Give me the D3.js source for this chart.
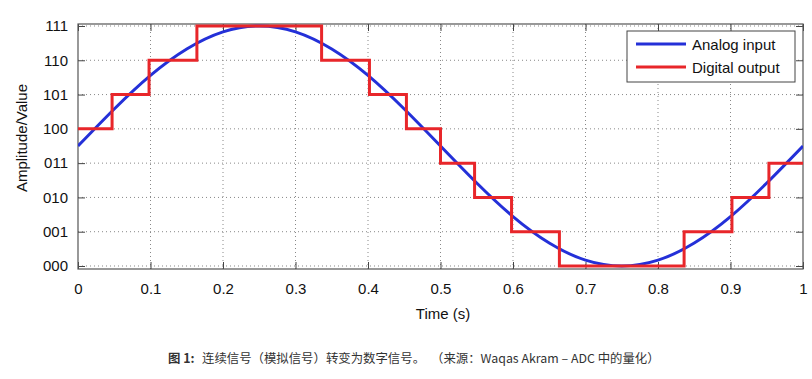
<!DOCTYPE html>
<html><head><meta charset="utf-8">
<script src="https://cdn.jsdelivr.net/npm/d3@7"></script>
<style>body{margin:0;background:#fff}svg{display:block}</style>
</head><body>
<svg id="c" width="812" height="379"></svg>
<script>
// Analog input samples (time, amplitude)
const analogT = [0,0.05,0.1,0.15,0.2,0.25,0.3,0.35,0.4,0.45,0.5,0.55,0.6,0.65,0.7,0.75,0.8,0.85,0.9,0.95,1.0];
const analogV = [3.5,4.58,5.56,6.33,6.83,7.0,6.83,6.33,5.56,4.58,3.5,2.42,1.44,0.67,0.17,0,0.17,0.67,1.44,2.42,3.5];
// Digital output steps (start time, level)
const stepT = [0,0.047,0.098,0.164,0.336,0.402,0.453,0.5,0.547,0.598,0.664,0.836,0.902,0.953,1.0];
const stepV = [4,5,6,7,6,5,4,3,2,1,0,1,2,3,3];
const xTicks = [0,0.1,0.2,0.3,0.4,0.5,0.6,0.7,0.8,0.9,1];
const xTickLabels = ["0","0.1","0.2","0.3","0.4","0.5","0.6","0.7","0.8","0.9","1"];
const yTicks = [0,1,2,3,4,5,6,7];
const yTickLabels = ["000","001","010","011","100","101","110","111"];
const seriesNames = ["Analog input","Digital output"];
const seriesColors = ["#2430d8","#e8262a"];

const svg = d3.select("#c");
const L=78, R=803, T=24, B=269;
const x = d3.scaleLinear().domain([0,1]).range([L,R]);
const y = d3.scaleLinear().domain([-0.0875,7.058]).range([B,T]);
const font = "'Liberation Sans', Arial, Helvetica, sans-serif";

// grid
const g = svg.append("g");
g.selectAll(".gx").data(xTicks.slice(1,-1)).join("line")
  .attr("x1",d=>x(d)).attr("x2",d=>x(d)).attr("y1",T).attr("y2",B)
  .attr("stroke","#888").attr("stroke-width",1).attr("stroke-dasharray","1,3");
g.selectAll(".gy").data(yTicks).join("line")
  .attr("x1",L).attr("x2",R).attr("y1",d=>y(d)).attr("y2",d=>y(d))
  .attr("stroke","#888").attr("stroke-width",1).attr("stroke-dasharray","1,3");

// axes with inward ticks
const fmtX = d=>xTickLabels[xTicks.indexOf(d)];
const fmtY = d=>yTickLabels[d];
const ax = svg.append("g").attr("transform",`translate(0,${B})`)
  .call(d3.axisBottom(x).tickValues(xTicks).tickFormat(fmtX).tickSizeInner(-7).tickSizeOuter(0).tickPadding(14));
const axT = svg.append("g").attr("transform",`translate(0,${T})`)
  .call(d3.axisTop(x).tickValues(xTicks).tickFormat("").tickSizeInner(-7).tickSizeOuter(0));
const ay = svg.append("g").attr("transform",`translate(${L},0)`)
  .call(d3.axisLeft(y).tickValues(yTicks).tickFormat(fmtY).tickSizeInner(-7).tickSizeOuter(0).tickPadding(10));
const ayR = svg.append("g").attr("transform",`translate(${R},0)`)
  .call(d3.axisRight(y).tickValues(yTicks).tickFormat("").tickSizeInner(-7).tickSizeOuter(0));
[ax,axT,ay,ayR].forEach(a=>{
  a.select(".domain").remove();
  a.selectAll(".tick line").attr("stroke","#444").attr("stroke-width",1);
  a.selectAll("text").attr("font-family",font).attr("font-size",15).attr("fill","#111");
});
svg.append("rect").attr("x",L).attr("y",T).attr("width",R-L).attr("height",B-T)
  .attr("fill","none").attr("stroke","#555").attr("stroke-width",1.2);

// data
svg.append("clipPath").attr("id","cp").append("rect")
  .attr("x",L).attr("y",T-2).attr("width",R-L).attr("height",B-T+4);
const analog = analogT.map((t,i)=>[t,analogV[i]]);
const digital = stepT.map((t,i)=>[t,stepV[i]]);
svg.append("path").datum(analog).attr("clip-path","url(#cp)")
  .attr("d",d3.line().x(d=>x(d[0])).y(d=>y(d[1])).curve(d3.curveNatural))
  .attr("fill","none").attr("stroke",seriesColors[0]).attr("stroke-width",3);
svg.append("path").datum(digital)
  .attr("d",d3.line().x(d=>x(d[0])).y(d=>y(d[1])).curve(d3.curveStepAfter))
  .attr("fill","none").attr("stroke",seriesColors[1]).attr("stroke-width",3);

// labels
svg.append("text").attr("x",443).attr("y",319).attr("text-anchor","middle")
  .attr("font-family",font).attr("font-size",15).attr("fill","#111").text("Time (s)");
svg.append("text").attr("transform","translate(27,138) rotate(-90)").attr("text-anchor","middle")
  .attr("font-family",font).attr("font-size",15).attr("fill","#111").text("Amplitude/Value");

// legend
const lg = svg.append("g");
lg.append("rect").attr("x",627).attr("y",31).attr("width",168).attr("height",51)
  .attr("fill","#fff").attr("stroke","#444").attr("stroke-width",1);
seriesNames.forEach((n,i)=>{
  const yy = 44 + i*23;
  lg.append("line").attr("x1",636).attr("x2",686).attr("y1",yy).attr("y2",yy)
    .attr("stroke",seriesColors[i]).attr("stroke-width",3);
  lg.append("text").attr("x",692).attr("y",yy+5.5).attr("font-family",font).attr("font-size",15)
    .attr("fill","#111").text(n);
});

// caption
const cfont = "'Noto Sans CJK SC','Noto Sans',sans-serif";
const cap = svg.append("g").attr("font-family",cfont).attr("font-size",12.4).attr("fill","#333");
cap.append("text").attr("x",168).attr("y",363).attr("font-weight","bold").text("图 1:");
cap.append("text").attr("x",202).attr("y",363).text("连续信号（模拟信号）转变为数字信号。");
cap.append("text").attr("x",431).attr("y",363).text("（来源：Waqas Akram – ADC 中的量化）");
</script>
</body></html>
